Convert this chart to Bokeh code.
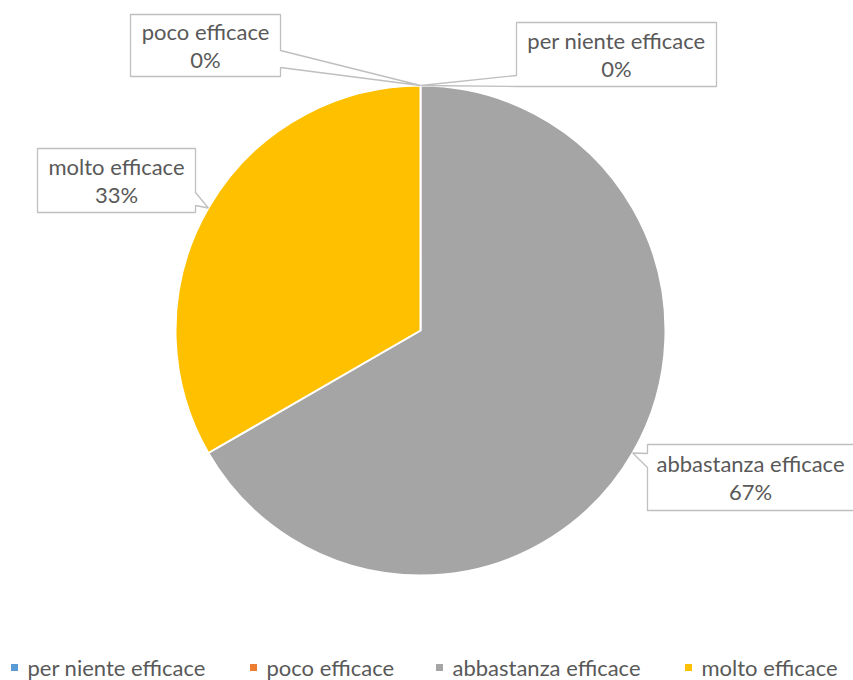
import numpy as np
from bokeh.plotting import figure
from bokeh.models import Range1d, ColumnDataSource
from bokeh.embed import file_html
from bokeh.resources import INLINE
from bokeh.core.properties import value

# ---- data ----
categories = ["per niente efficace", "poco efficace", "abbastanza efficace", "molto efficace"]
counts = [0, 0, 2, 1]
colors = ["#5b9bd5", "#ed7d31", "#a5a5a5", "#ffc000"]

# ---- layout (page pixel coordinates) ----
W, H = 853, 680
CXp, CYp, R = 420, 330, 245
FONT = "Lato"
FS = "22px"
TXT = "#595959"
BORDER = "#bfbfbf"
# callout boxes: left, top, right, bottom, side of pointer, pointer base y1, y2
boxes = {
    "per niente efficace": (516, 22, 716, 86, "left", 75, 86),
    "poco efficace": (130, 14, 280, 76, "right", 50, 67),
    "abbastanza efficace": (647, 444, 875, 510, "left", 453, 467),
    "molto efficace": (37, 148, 195, 212, "right", 192, 205),
}
label_center_x = {"abbastanza efficace": 750}
legend_marker_x = [14, 253, 439, 688]
legend_y = 667


def Y(py):
    return H - py


p = figure(width=W, height=H, output_backend="svg", toolbar_location=None,
           x_range=Range1d(0, W), y_range=Range1d(0, H), min_border=0)
p.axis.visible = False
p.grid.visible = False
p.outline_line_color = None
p.background_fill_color = "white"

vals = np.array(counts, dtype=float)
frac = vals / vals.sum()
cum = np.concatenate([[0], np.cumsum(frac)])
start = np.pi / 2 - 2 * np.pi * cum[:-1]
end = np.pi / 2 - 2 * np.pi * cum[1:]
mid = (start + end) / 2

nz = vals > 0
src = ColumnDataSource(dict(start=start[nz], end=end[nz],
                            color=[c for c, k in zip(colors, nz) if k]))
p.wedge(x=CXp, y=Y(CYp), radius=R, start_angle="start", end_angle="end",
        direction="clock", fill_color="color", line_color="white", line_width=2,
        source=src)

# callouts
for cat, f, a in zip(categories, frac, mid):
    L, T, Rr, B, side, b1, b2 = boxes[cat]
    tx = CXp + R * np.cos(a)
    ty = CYp - R * np.sin(a)
    if side == "right":
        pts = [(L, T), (Rr, T), (Rr, b1), (tx, ty), (Rr, b2), (Rr, B), (L, B)]
    else:
        pts = [(L, T), (Rr, T), (Rr, B), (L, B), (L, b2), (tx, ty), (L, b1)]
    xs = [q[0] for q in pts]
    ys = [Y(q[1]) for q in pts]
    p.patch(xs, ys, fill_color="white", line_color=BORDER, line_width=1.3)
    cx = label_center_x.get(cat, (L + Rr) / 2)
    cy = (T + B) / 2
    p.text(x=[cx, cx], y=[Y(cy - 14), Y(cy + 14)],
           text=[cat, f"{round(f * 100):.0f}%"],
           text_align="center", text_baseline="middle",
           text_font=value(FONT), text_font_size=FS, text_color=TXT)

# legend
for mx, cat, col in zip(legend_marker_x, categories, colors):
    p.scatter(x=[mx], y=[Y(legend_y)], marker="square", size=7,
              fill_color=col, line_color=None)
    p.text(x=[mx + 13], y=[Y(legend_y)], text=[cat], text_align="left",
           text_baseline="middle", text_font=value(FONT), text_font_size=FS,
           text_color=TXT)

open("out.html", "w").write(file_html(p, INLINE))
